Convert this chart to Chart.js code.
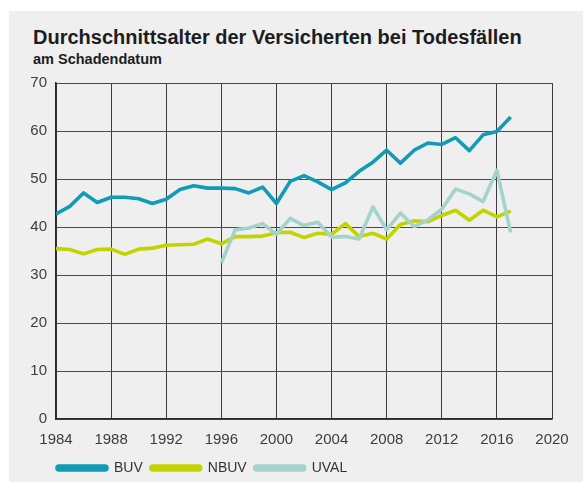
<!DOCTYPE html>
<html>
<head>
<meta charset="utf-8">
<script src="https://cdn.jsdelivr.net/npm/chart.js@4.4.0/dist/chart.umd.min.js"></script>
<style>
 body   { margin: 0; background: #ffffff; font-family: "Liberation Sans", Arial, sans-serif; }
 #panel { position: absolute; left: 9px; top: 11px; width: 574px; height: 471px; background: #efefef; }
 #titre { position: absolute; left: 24px; top: 15.5px; margin: 0; font-size: 20px; line-height: 20px; font-weight: bold; color: #1d1d1d; }
 #sous  { position: absolute; left: 24px; top: 40.5px; margin: 0; font-size: 14.5px; line-height: 14.5px; font-weight: bold; color: #1d1d1d; }
 #zone  { position: absolute; left: 0; top: 0; width: 574px; height: 471px; }
</style>
</head>
<body>
<div id="panel">
  <h2 id="titre">Durchschnittsalter der Versicherten bei Todesfällen</h2>
  <div id="sous">am Schadendatum</div>
  <div id="zone"><canvas id="idCourbe"></canvas></div>
</div>
<script>
/********************************* Données ************************************************************************************/
 var annees = [ 1984, 1985, 1986, 1987, 1988, 1989, 1990, 1991, 1992, 1993, 1994, 1995,
                1996, 1997, 1998, 1999, 2000, 2001, 2002, 2003, 2004, 2005, 2006, 2007,
                2008, 2009, 2010, 2011, 2012, 2013, 2014, 2015, 2016, 2017 ];
 var buv    = [ 42.7, 44.3, 47.1, 45.1, 46.2, 46.2, 45.9, 44.9, 45.8, 47.8, 48.6, 48.1,
                48.1, 48.0, 47.1, 48.3, 44.9, 49.5, 50.7, 49.4, 47.8, 49.2, 51.6, 53.5,
                56.0, 53.3, 56.0, 57.5, 57.2, 58.6, 55.9, 59.2, 59.9, 62.9 ];
 var nbuv   = [ 35.5, 35.3, 34.4, 35.3, 35.4, 34.3, 35.4, 35.6, 36.2, 36.3, 36.4, 37.5,
                36.5, 38.0, 38.0, 38.1, 38.8, 38.9, 37.8, 38.7, 38.5, 40.7, 38.0, 38.7,
                37.5, 40.5, 41.3, 41.1, 42.4, 43.5, 41.4, 43.5, 42.1, 43.3 ];
 var uval   = [ null, null, null, null, null, null, null, null, null, null, null, null,
                32.5, 39.4, 39.8, 40.7, 38.5, 41.8, 40.3, 41.0, 37.9, 38.0, 37.5, 44.2,
                39.4, 42.9, 40.1, 41.5, 43.7, 47.9, 46.9, 45.3, 51.8, 38.9 ];
 var libelles = [ "BUV", "NBUV", "UVAL" ];
 var couleurs = [ "#0f9cb4", "#c3d300", "#a3d3cc" ];
 var axe_x    = { min: 1984, max: 2020, pas: 4 };
 var axe_y    = { min: 0, max: 70, pas: 10 };

/********************************* Construction des séries *******************************************************************/
 function Serie ( valeurs )
  { return( annees.map( function(annee, i) { return( { x: annee, y: valeurs[i] } ); } ) ); }

 var series = [ buv, nbuv, uval ];
 var data = { datasets: [] };
 for (var i=0; i<series.length; i++)
  { data.datasets.push ( { label: libelles[i],
                           data: Serie(series[i]),
                           borderColor: couleurs[i],
                           backgroundColor: couleurs[i],
                           borderWidth: 3.6,
                           borderJoinStyle: "round",
                           borderCapStyle: "butt",
                           tension: 0,
                           pointRadius: 0,
                           spanGaps: false,
                           order: series.length-i                           /* UVAL dessinée par dessus les autres */
                         } );
  }

/********************************* La légende démarre sous le début de l'axe X ************************************************/
 var Decale_legende = { id: "decale_legende",
                        afterLayout: function(chart)
                         { if (!chart.legend) return;
                           chart.legend.left = chart.chartArea.left - 7;
                           chart.legend.top  = chart.legend.top - 8;
                         }
                      };

 var police = { family: "'Liberation Sans', Arial, sans-serif", size: 15 };
 var options = { responsive: true, maintainAspectRatio: false, animation: false,
                 layout: { padding: { left: 0, right: 31, top: 72, bottom: -11 } },
                 scales: { x: { type: "linear", min: axe_x.min, max: axe_x.max,
                                ticks: { stepSize: axe_x.pas, color: "#3c3c3c", font: police, padding: 12, maxRotation: 0,
                                         callback: function(v) { return String(v); } },
                                grid: { color: "#3d3d3d", lineWidth: 1, drawTicks: false },
                                border: { color: "#2a2a2a", width: 1.5 }
                              },
                           y: { min: axe_y.min, max: axe_y.max,
                                ticks: { stepSize: axe_y.pas, color: "#3c3c3c", font: police, padding: 9 },
                                grid: { color: "#4a4a4a", lineWidth: 1, drawTicks: false },
                                border: { color: "#2a2a2a", width: 1.5 },
                                afterFit: function(scale) { scale.width = 47; }
                              }
                         },
                 plugins: { legend: { position: "bottom", align: "start",
                                      labels: { boxWidth: 50, boxHeight: 4, useBorderRadius: true, borderRadius: 2,
                                                color: "#333333", font: { family: police.family, size: 14 }, padding: 8,
                                                sort: function(a, b) { return a.datasetIndex - b.datasetIndex; } } },
                            tooltip: { enabled: false },
                            title: { display: false }
                          }
               };

 var ctx = document.getElementById("idCourbe").getContext("2d");
 var Courbe = new Chart ( ctx, { type: "line", data: data, options: options, plugins: [ Decale_legende ] } );
</script>
</body>
</html>
